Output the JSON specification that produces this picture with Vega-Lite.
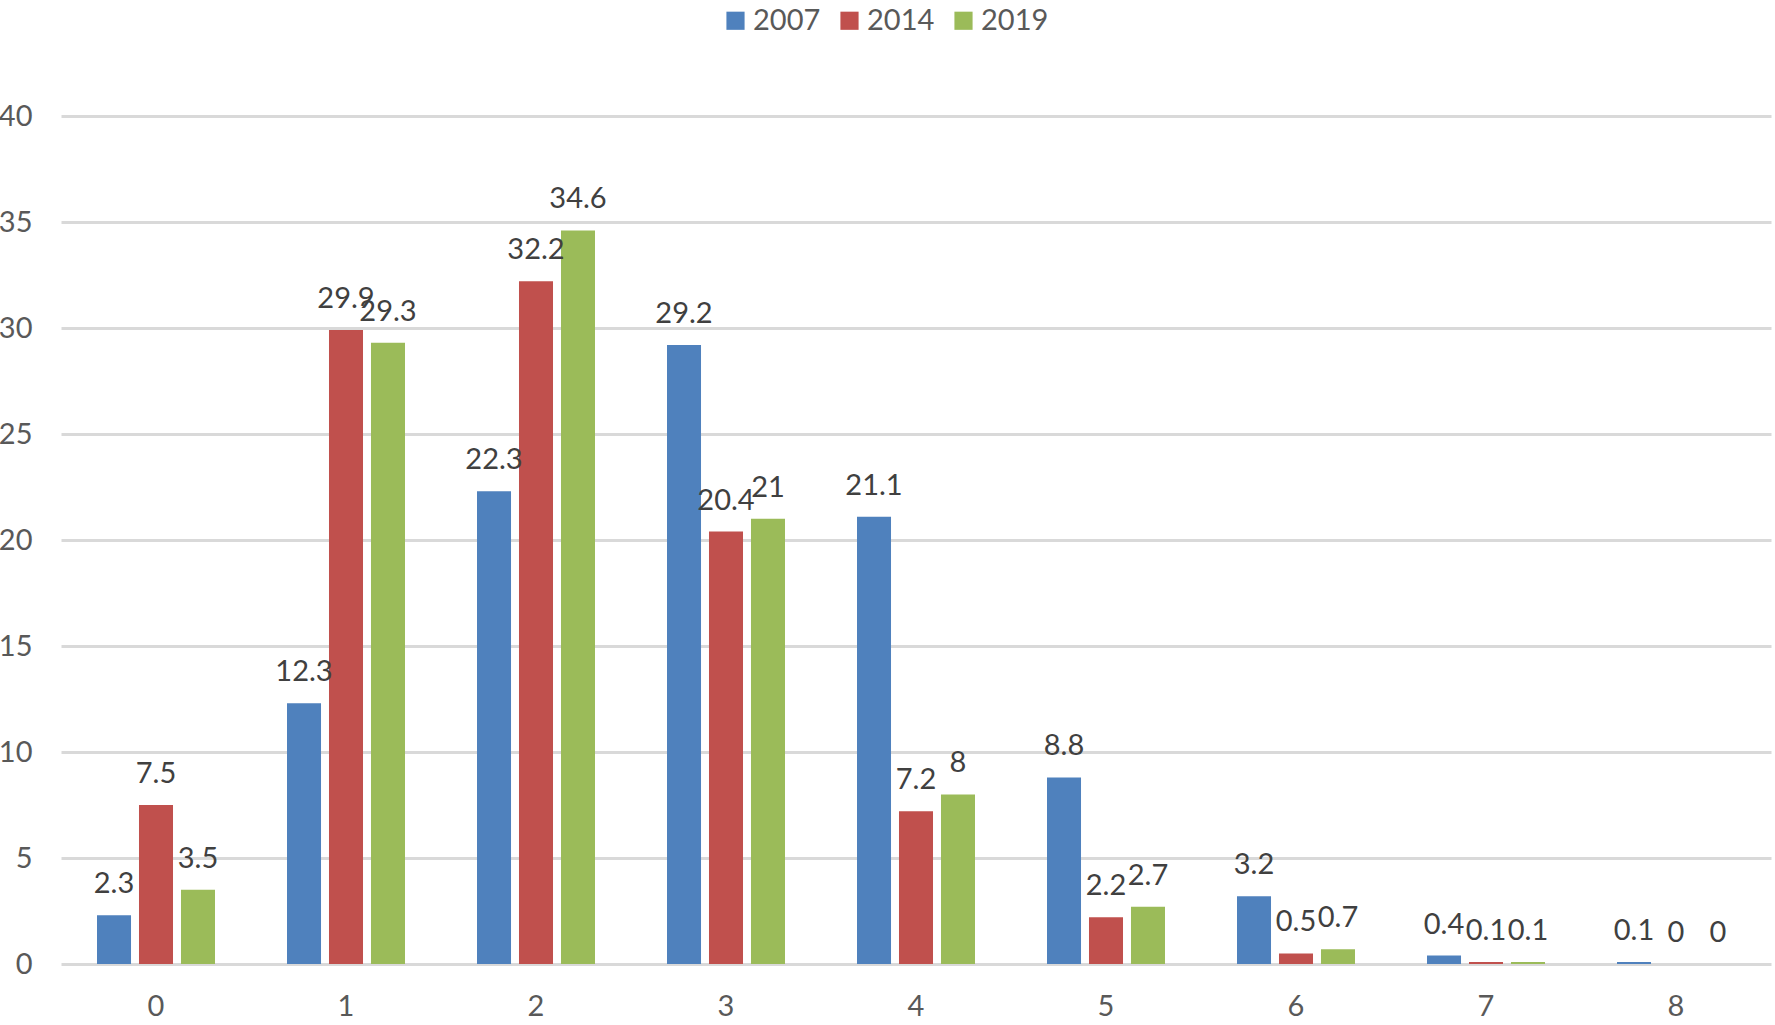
{
  "$schema": "https://vega.github.io/schema/vega-lite/v6.json",
  "autosize": {"type": "none"},
  "padding": {"left": 61, "top": 116, "right": 4, "bottom": 61},
  "width": 1710,
  "height": 848,
  "background": "white",
  "config": {
    "view": {"stroke": null},
    "font": "Lato",
    "text": {"font": "Lato"}
  },
  "data": {
    "values": [
      {"cat": "0", "year": "2007", "value": 2.3},
      {"cat": "0", "year": "2014", "value": 7.5},
      {"cat": "0", "year": "2019", "value": 3.5},
      {"cat": "1", "year": "2007", "value": 12.3},
      {"cat": "1", "year": "2014", "value": 29.9},
      {"cat": "1", "year": "2019", "value": 29.3},
      {"cat": "2", "year": "2007", "value": 22.3},
      {"cat": "2", "year": "2014", "value": 32.2},
      {"cat": "2", "year": "2019", "value": 34.6},
      {"cat": "3", "year": "2007", "value": 29.2},
      {"cat": "3", "year": "2014", "value": 20.4},
      {"cat": "3", "year": "2019", "value": 21},
      {"cat": "4", "year": "2007", "value": 21.1},
      {"cat": "4", "year": "2014", "value": 7.2},
      {"cat": "4", "year": "2019", "value": 8},
      {"cat": "5", "year": "2007", "value": 8.8},
      {"cat": "5", "year": "2014", "value": 2.2},
      {"cat": "5", "year": "2019", "value": 2.7},
      {"cat": "6", "year": "2007", "value": 3.2},
      {"cat": "6", "year": "2014", "value": 0.5},
      {"cat": "6", "year": "2019", "value": 0.7},
      {"cat": "7", "year": "2007", "value": 0.4},
      {"cat": "7", "year": "2014", "value": 0.1},
      {"cat": "7", "year": "2019", "value": 0.1},
      {"cat": "8", "year": "2007", "value": 0.1},
      {"cat": "8", "year": "2014", "value": 0},
      {"cat": "8", "year": "2019", "value": 0}
    ]
  },
  "encoding": {
    "x": {
      "field": "cat",
      "type": "ordinal",
      "sort": ["0", "1", "2", "3", "4", "5", "6", "7", "8"],
      "scale": {"paddingInner": 0.379, "paddingOuter": 0.1895},
      "axis": {
        "title": null,
        "labelAngle": 0,
        "domain": false,
        "ticks": false,
        "labelPadding": 28,
        "labelFontSize": 29,
        "labelColor": "#595959",
        "labelFont": "Lato"
      }
    },
    "xOffset": {
      "field": "year",
      "type": "nominal",
      "scale": {"paddingInner": 0.19, "paddingOuter": 0}
    },
    "y": {
      "field": "value",
      "type": "quantitative",
      "scale": {"domain": [0, 40], "nice": false},
      "axis": {
        "title": null,
        "values": [0, 5, 10, 15, 20, 25, 30, 35, 40],
        "domain": false,
        "ticks": false,
        "labelPadding": 29,
        "labelFontSize": 29,
        "labelColor": "#595959",
        "labelFont": "Lato",
        "gridColor": "#d9d9d9",
        "gridWidth": 3
      }
    }
  },
  "layer": [
    {
      "mark": {"type": "bar"},
      "encoding": {
        "color": {
          "field": "year",
          "type": "nominal",
          "scale": {"domain": ["2007", "2014", "2019"], "range": ["#4F81BD", "#C0504D", "#9BBB59"]},
          "legend": {
            "title": null,
            "orient": "none",
            "direction": "horizontal",
            "legendX": 660,
            "legendY": -110,
            "padding": 0,
            "symbolType": "square",
            "symbolSize": 330,
            "symbolStrokeWidth": 0,
            "symbolOpacity": 1,
            "labelFontSize": 29,
            "labelFont": "Lato",
            "labelColor": "#595959",
            "labelOffset": 3,
            "columnPadding": 14
          }
        }
      }
    },
    {
      "mark": {"type": "text", "baseline": "alphabetic", "dy": -22, "fontSize": 29, "color": "#404040", "font": "Lato"},
      "encoding": {
        "text": {"field": "value", "type": "quantitative"}
      }
    }
  ]
}
